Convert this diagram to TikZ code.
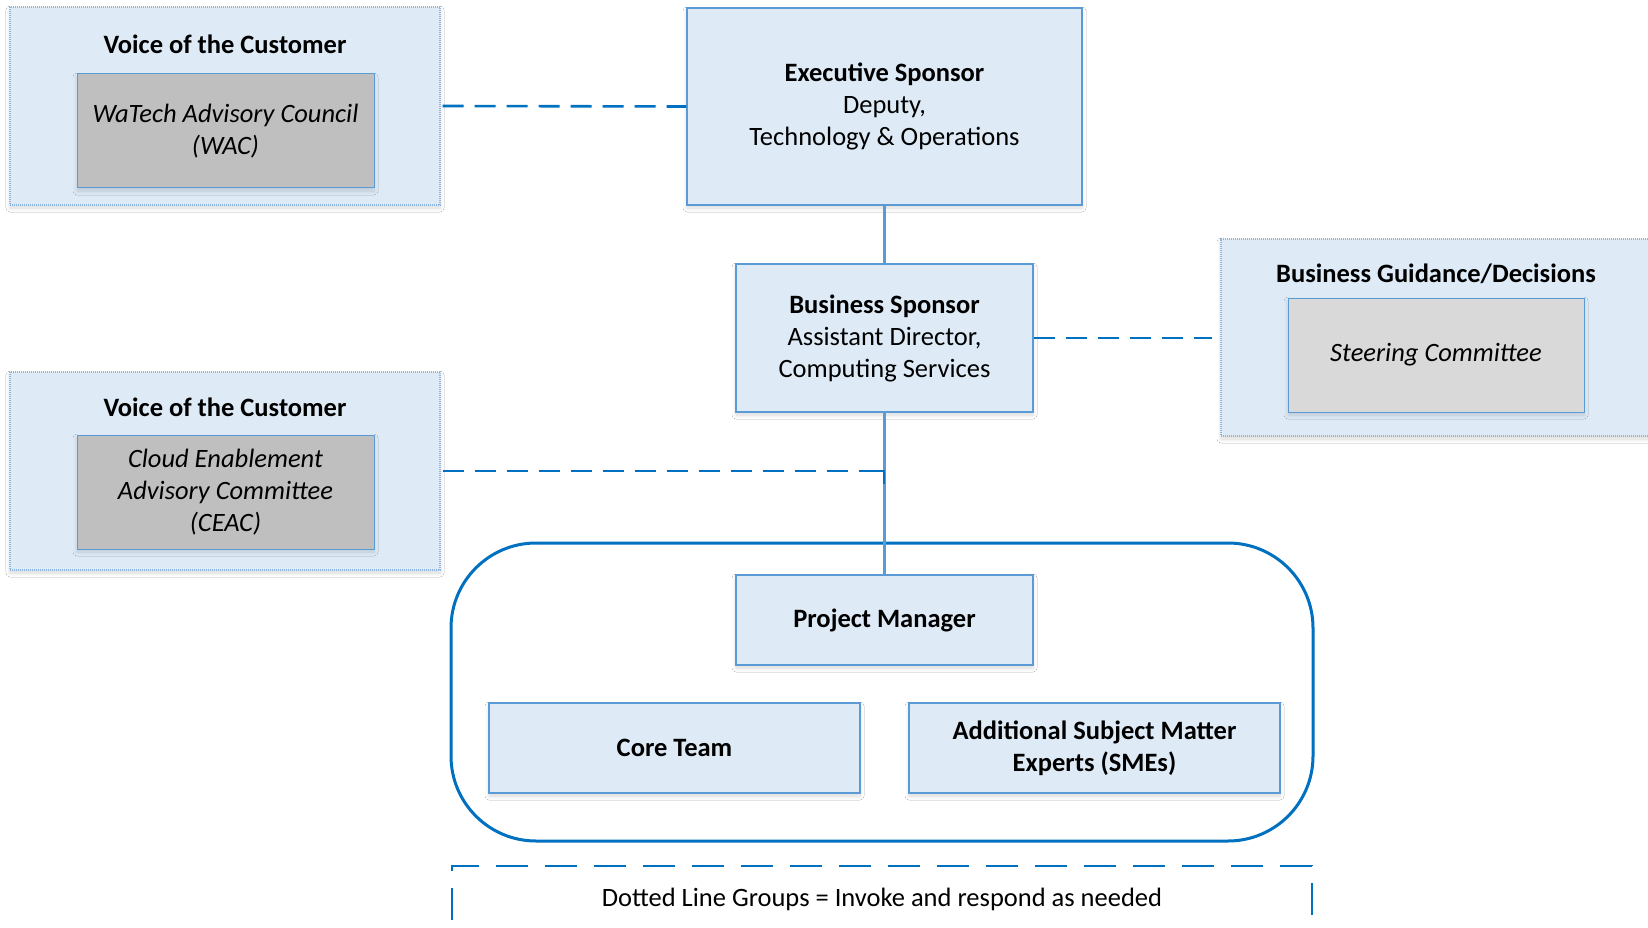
\documentclass[tikz,border=0pt]{standalone}
\usepackage{fontspec}
\setmainfont{Carlito}
\usetikzlibrary{shadows.blur}
\definecolor{boxfill}{HTML}{DEEBF7}
\definecolor{boxline}{HTML}{5B9BD5}
\definecolor{dkblue}{HTML}{0070C0}
\definecolor{grayA}{HTML}{BFBFBF}
\definecolor{grayB}{HTML}{D9D9D9}
\definecolor{outlinec}{HTML}{8DB6E2}
\begin{document}
\begin{tikzpicture}[x=1pt,y=-1pt,
  every node/.style={font=\fontsize{26.5}{32}\selectfont, inner sep=0pt, align=center},
  softshadow/.style={blur shadow={shadow blur steps=6, shadow xshift=0pt, shadow yshift=-3pt, shadow opacity=15, shadow blur radius=4pt}},
  bluebox/.style={draw=boxline, line width=1.4pt, fill=boxfill, softshadow},
  groupbox/.style={draw=outlinec, line width=1.2pt, dash pattern=on 1.2pt off 0.8pt, fill=boxfill, softshadow},
  graybox/.style={draw=boxline, line width=1pt, fill=grayA, font=\fontsize{26.5}{32}\selectfont\itshape, softshadow},
  grayboxlight/.style={graybox, fill=grayB},
  titletext/.style={font=\fontsize{26.5}{32}\selectfont\bfseries},
  solidlink/.style={draw=boxline, line width=2.2pt},
  dashlink/.style={draw=dkblue, line width=2.6pt, dash pattern=on 21pt off 11pt},
  container/.style={draw=dkblue, line width=3pt, rounded corners=85pt, fill=white},
  notebox/.style={draw=dkblue, line width=2pt, dash pattern=on 32pt off 17pt}
]
\useasboundingbox (0,0) rectangle (1648,928);
\clip (0,0) rectangle (1648,928);
\fill[white] (0,0) rectangle (1648,928);

% container of the project team
\node[container, minimum width=862pt, minimum height=298pt] (team) at (882,692) {};

% Voice of the Customer 1
\node[groupbox, minimum width=430pt, minimum height=198pt] (voc1) at (225,106) {};
\node[titletext] (voc1t) at (225,44) {Voice of the Customer};
\node[graybox, minimum width=297pt, minimum height=114pt] (wac) at (225.5,131) {WaTech Advisory Council\\(WAC)};

% Executive sponsor
\node[bluebox, minimum width=395pt, minimum height=197pt] (exec) at (884.5,106.5) {\textbf{Executive Sponsor}\\Deputy,\\Technology \& Operations};

% Business sponsor
\node[bluebox, minimum width=297pt, minimum height=148pt] (bs) at (884.5,338) {\textbf{Business Sponsor}\\Assistant Director,\\Computing Services};

% Business guidance
\node[groupbox, minimum width=430pt, minimum height=197pt] (bg) at (1436,337.5) {};
\node[titletext] (bgt) at (1436,274) {Business Guidance/Decisions};
\node[grayboxlight, minimum width=296pt, minimum height=114pt] (sc) at (1436,355) {Steering Committee};

% Voice of the Customer 2
\node[groupbox, minimum width=430pt, minimum height=198pt] (voc2) at (225,471) {};
\node[titletext] (voc2t) at (225,407) {Voice of the Customer};
\node[graybox, minimum width=297pt, minimum height=114pt] (ceac) at (225.5,492) {Cloud Enablement\\Advisory Committee\\(CEAC)};

% Team
\node[bluebox, titletext, minimum width=297pt, minimum height=90pt] (pm) at (884.5,620) {Project Manager};
\node[bluebox, titletext, minimum width=371pt, minimum height=90pt] (core) at (674.5,748) {Core Team};
\node[bluebox, titletext, minimum width=371pt, minimum height=90pt] (sme) at (1094.5,748) {Additional Subject Matter\\Experts (SMEs)};

% note box
\node[notebox, minimum width=860pt, minimum height=120pt] (note) at (882,926) {};
\node (notet) at (882,899) {Dotted Line Groups = Invoke and respond as needed};

% connectors
\draw[solidlink] (exec.south) -- (bs.north);
\draw[solidlink] (bs.south) -- (pm.north);
\draw[dashlink] ([xshift=2pt]voc1.east) -- (exec.west);
\draw[dashlink] (bs.east) -- ([xshift=-8pt]bs.east -| bg.west);
\coordinate (jn) at (884,471);
\coordinate (jt) at (884,484);
\draw[dashlink] ([xshift=2pt]voc2.east) -- (jn);
\draw[draw=dkblue, line width=2.6pt] ([xshift=-6pt]jn) -- (jn) -- (jt);
\end{tikzpicture}
\end{document}
